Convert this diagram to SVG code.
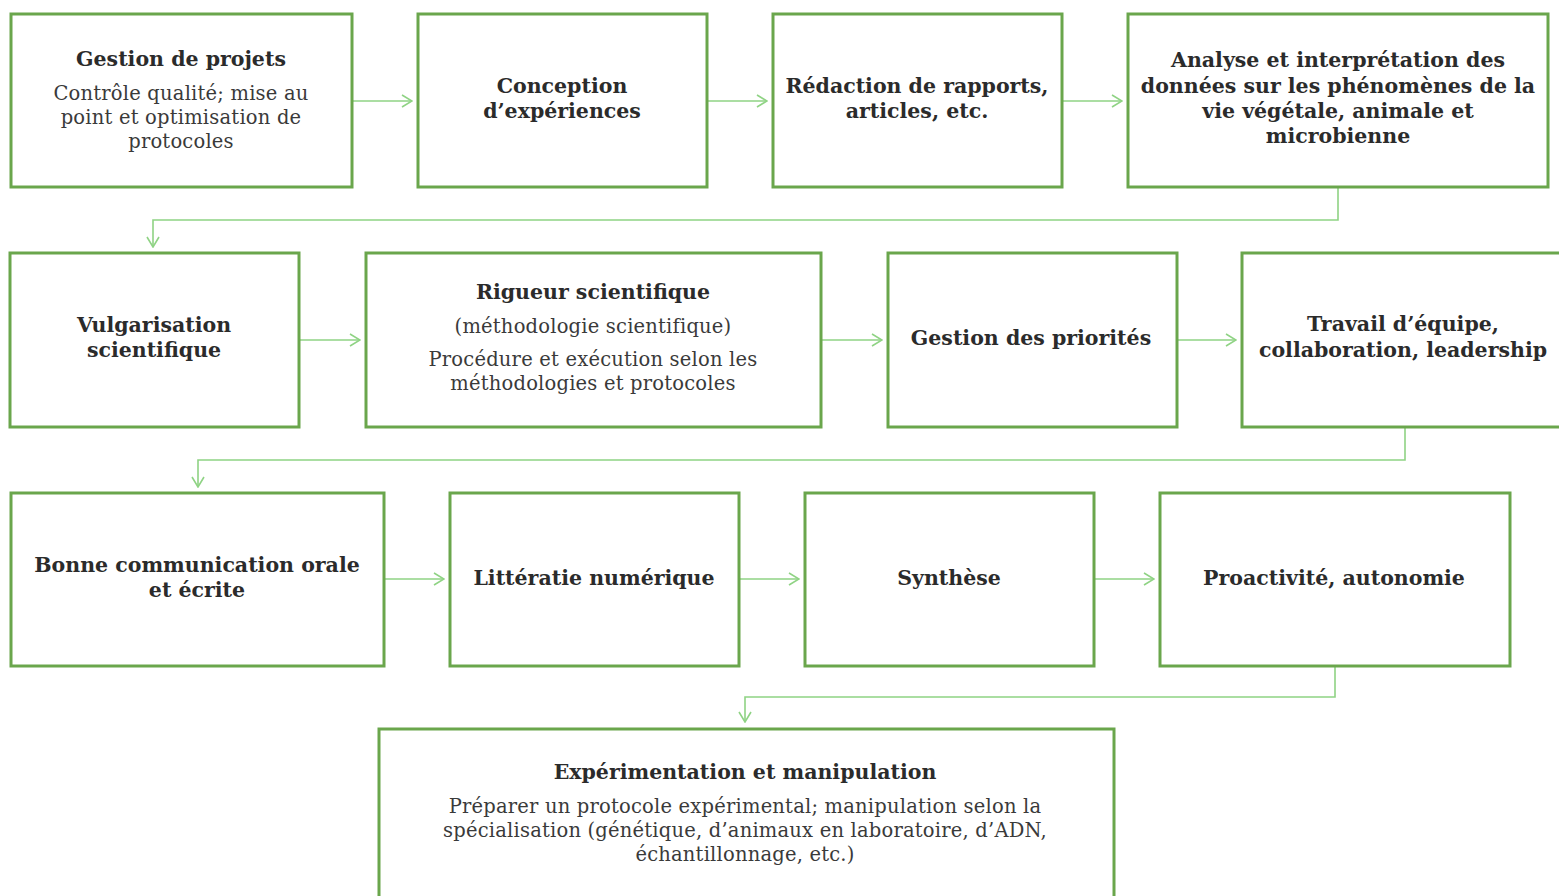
<svg xmlns="http://www.w3.org/2000/svg" width="1559" height="896" viewBox="0 0 1559 896">
<style>
.box{fill:#ffffff;stroke:#6aa64c;stroke-width:3}
.conn{fill:none;stroke:#8fd384;stroke-width:1.6}
.h{font-family:"DejaVu Serif","Liberation Serif",serif;font-weight:bold;font-size:20.5px;fill:#2b2b2b;text-anchor:middle}
.b{font-family:"DejaVu Serif","Liberation Serif",serif;font-size:19.5px;letter-spacing:0.2px;fill:#3a3a3a;text-anchor:middle}
</style>
<defs>
<marker id="arr" viewBox="0 0 12 14" refX="11" refY="7" markerWidth="12" markerHeight="14" markerUnits="userSpaceOnUse" orient="auto">
<path d="M1,1 L11,7 L1,13" fill="none" stroke="#8fd384" stroke-width="1.6"/>
</marker>
</defs>
<rect width="1559" height="896" fill="#ffffff"/>
<g id="connectors">
<line class="conn" x1="352" y1="101" x2="412" y2="101" marker-end="url(#arr)"/>
<line class="conn" x1="707" y1="101" x2="767" y2="101" marker-end="url(#arr)"/>
<line class="conn" x1="1062" y1="101" x2="1122" y2="101" marker-end="url(#arr)"/>
<polyline class="conn" points="1338,187 1338,220 153,220 153,247" marker-end="url(#arr)"/>
<line class="conn" x1="299" y1="340" x2="360" y2="340" marker-end="url(#arr)"/>
<line class="conn" x1="821" y1="340" x2="882" y2="340" marker-end="url(#arr)"/>
<line class="conn" x1="1177" y1="340" x2="1236" y2="340" marker-end="url(#arr)"/>
<polyline class="conn" points="1405,427 1405,460 198,460 198,487" marker-end="url(#arr)"/>
<line class="conn" x1="384" y1="579" x2="444" y2="579" marker-end="url(#arr)"/>
<line class="conn" x1="739" y1="579" x2="799" y2="579" marker-end="url(#arr)"/>
<line class="conn" x1="1094" y1="579" x2="1154" y2="579" marker-end="url(#arr)"/>
<polyline class="conn" points="1335,666 1335,697 745,697 745,722" marker-end="url(#arr)"/>
</g>
<g id="n1"><rect class="box" x="11" y="14" width="341" height="173"/>
<text class="h" x="181" y="66">Gestion de projets</text>
<text class="b" x="181" y="100">Contrôle qualité; mise au</text>
<text class="b" x="181" y="124">point et optimisation de</text>
<text class="b" x="181" y="148">protocoles</text></g>
<g id="n2"><rect class="box" x="418" y="14" width="289" height="173"/>
<text class="h" x="562" y="93">Conception</text>
<text class="h" x="562" y="118">d’expériences</text></g>
<g id="n3"><rect class="box" x="773" y="14" width="289" height="173"/>
<text class="h" x="917" y="93">Rédaction de rapports,</text>
<text class="h" x="917" y="118">articles, etc.</text></g>
<g id="n4"><rect class="box" x="1128" y="14" width="420" height="173"/>
<text class="h" x="1338" y="67">Analyse et interprétation des</text>
<text class="h" x="1338" y="93">données sur les phénomènes de la</text>
<text class="h" x="1338" y="118">vie végétale, animale et</text>
<text class="h" x="1338" y="143">microbienne</text></g>
<g id="n5"><rect class="box" x="10" y="253" width="289" height="174"/>
<text class="h" x="154" y="332">Vulgarisation</text>
<text class="h" x="154" y="357">scientifique</text></g>
<g id="n6"><rect class="box" x="366" y="253" width="455" height="174"/>
<text class="h" x="593" y="299">Rigueur scientifique</text>
<text class="b" x="593" y="333">(méthodologie scientifique)</text>
<text class="b" x="593" y="366">Procédure et exécution selon les</text>
<text class="b" x="593" y="390">méthodologies et protocoles</text></g>
<g id="n7"><rect class="box" x="888" y="253" width="289" height="174"/>
<text class="h" x="1031" y="345">Gestion des priorités</text></g>
<g id="n8"><rect class="box" x="1242" y="253" width="330" height="174"/>
<text class="h" x="1403" y="331">Travail d’équipe,</text>
<text class="h" x="1403" y="357">collaboration, leadership</text></g>
<g id="n9"><rect class="box" x="11" y="493" width="373" height="173"/>
<text class="h" x="197" y="572">Bonne communication orale</text>
<text class="h" x="197" y="597">et écrite</text></g>
<g id="n10"><rect class="box" x="450" y="493" width="289" height="173"/>
<text class="h" x="594" y="585">Littératie numérique</text></g>
<g id="n11"><rect class="box" x="805" y="493" width="289" height="173"/>
<text class="h" x="949" y="585">Synthèse</text></g>
<g id="n12"><rect class="box" x="1160" y="493" width="350" height="173"/>
<text class="h" x="1334" y="585">Proactivité, autonomie</text></g>
<g id="n13"><rect class="box" x="379" y="729" width="735" height="180"/>
<text class="h" x="745" y="779">Expérimentation et manipulation</text>
<text class="b" x="745" y="813">Préparer un protocole expérimental; manipulation selon la</text>
<text class="b" x="745" y="837">spécialisation (génétique, d’animaux en laboratoire, d’ADN,</text>
<text class="b" x="745" y="861">échantillonnage, etc.)</text></g>
</svg>
